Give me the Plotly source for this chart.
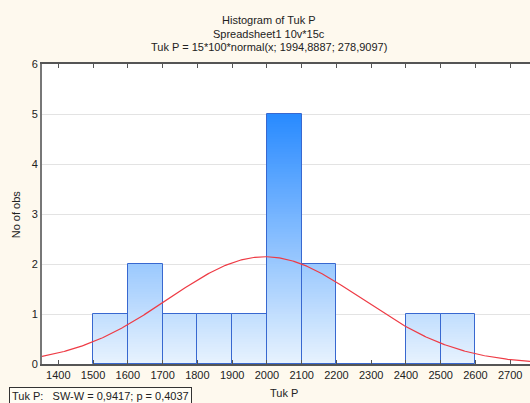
import numpy as np
import plotly.graph_objects as go

# Data
bin_left = [1500, 1600, 1700, 1800, 1900, 2000, 2100, 2200, 2300, 2400, 2500]
counts = [1, 2, 1, 1, 1, 5, 2, 0, 0, 1, 1]
bin_width = 100
n_obs = 15
fit_mean = 1994.8887
fit_sd = 278.9097
x_ticks = list(range(1400, 2701, 100))
y_ticks = [0, 1, 2, 3, 4, 5, 6]
title_lines = ["Histogram of Tuk P", "Spreadsheet1 10v*15c",
               "Tuk P = 15*100*normal(x; 1994,8887; 278,9097)"]
footer = "Tuk P:\u00a0\u00a0\u00a0SW-W = 0,9417; p = 0,4037"

W, H = 530, 403
L, R, T, B = 41.7, 0, 64.3, 39
pw = W - L - R
ph = H - T - B
xr = [1353, 2757]
yr = [0, 6]

def px_x(p):
    return (p - L) / pw

def px_y(p):
    return (H - B - p) / ph

centers = [b + bin_width / 2 for b in bin_left]

# gradient by absolute height
c_low = np.array([232, 243, 254])
c_high = np.array([40, 138, 255])
ymax = 5.0
dh = 0.05
gx, gy, gb, gc = [], [], [], []
for cx, c in zip(centers, counts):
    lvl = 0.0
    while lvl < c - 1e-9:
        h = min(dh, c - lvl)
        t = min(1.0, (lvl + h / 2) / ymax)
        col = c_low + (c_high - c_low) * t
        gx.append(cx)
        gy.append(h + 0.002)
        gb.append(lvl)
        gc.append("rgb(%d,%d,%d)" % tuple(col.round().astype(int)))
        lvl += dh

fig = go.Figure()
fig.add_trace(go.Bar(x=gx, y=gy, base=gb, width=bin_width,
                     marker=dict(color=gc, line=dict(width=0)),
                     hoverinfo="skip", showlegend=False))
fig.add_trace(go.Bar(x=centers, y=counts, width=bin_width,
                     marker=dict(color="rgba(0,0,0,0)",
                                 line=dict(color="#3868D0", width=1)),
                     showlegend=False))

xs = np.linspace(xr[0], xr[1], 400)
ys = n_obs * bin_width * np.exp(-0.5 * ((xs - fit_mean) / fit_sd) ** 2) / (fit_sd * np.sqrt(2 * np.pi))
fig.add_trace(go.Scatter(x=xs, y=ys, mode="lines",
                         line=dict(color="#EE3B45", width=1.2), showlegend=False))

font = "Arial, Liberation Sans, sans-serif"
ann = []
for i, (line, yp) in enumerate(zip(title_lines, [20.7, 34.3, 47.7])):
    ann.append(dict(text=line, x=px_x(269), y=px_y(yp), xref="paper", yref="paper",
                    xanchor="center", yanchor="middle", showarrow=False,
                    font=dict(size=11, color="#222")))
ann.append(dict(text="No of obs", x=px_x(16), y=0.5, xref="paper", yref="paper",
                textangle=-90, xanchor="center", yanchor="middle", showarrow=False,
                font=dict(size=11, color="#222")))
ann.append(dict(text="Tuk P", x=px_x(284), y=px_y(393), xref="paper", yref="paper",
                xanchor="center", yanchor="middle", showarrow=False,
                font=dict(size=11, color="#222")))
ann.append(dict(text=footer, x=px_x(9), y=px_y(395.5), xref="paper", yref="paper",
                xanchor="left", yanchor="middle", showarrow=False,
                bordercolor="#333", borderwidth=1, borderpad=2, bgcolor="#FFFDF5",
                font=dict(size=11, color="#222")))

fig.update_layout(
    width=W, height=H,
    margin=dict(l=L, r=R, t=T, b=B, pad=0),
    paper_bgcolor="#FEF9EE", plot_bgcolor="#FFFFFF",
    barmode="overlay", bargap=0,
    font=dict(family=font, size=11, color="#222"),
    annotations=ann,
    hovermode=False,
    xaxis=dict(range=xr, tickvals=x_ticks, ticks="inside", ticklen=4,
               tickcolor="#555", showline=True, linecolor="#555", linewidth=1.5,
               mirror="ticks", showgrid=False, zeroline=False,
               tickfont=dict(size=11, color="#222")),
    yaxis=dict(range=yr, tickvals=y_ticks, ticks="", showline=True,
               linecolor="#777", linewidth=2, showgrid=True, gridcolor="#E3E3E3",
               zeroline=False, tickfont=dict(size=11, color="#222")),
)

fig.write_html("out.html", config={"displayModeBar": False},
               post_script="document.body.style.margin='0';document.body.style.overflow='hidden';")
